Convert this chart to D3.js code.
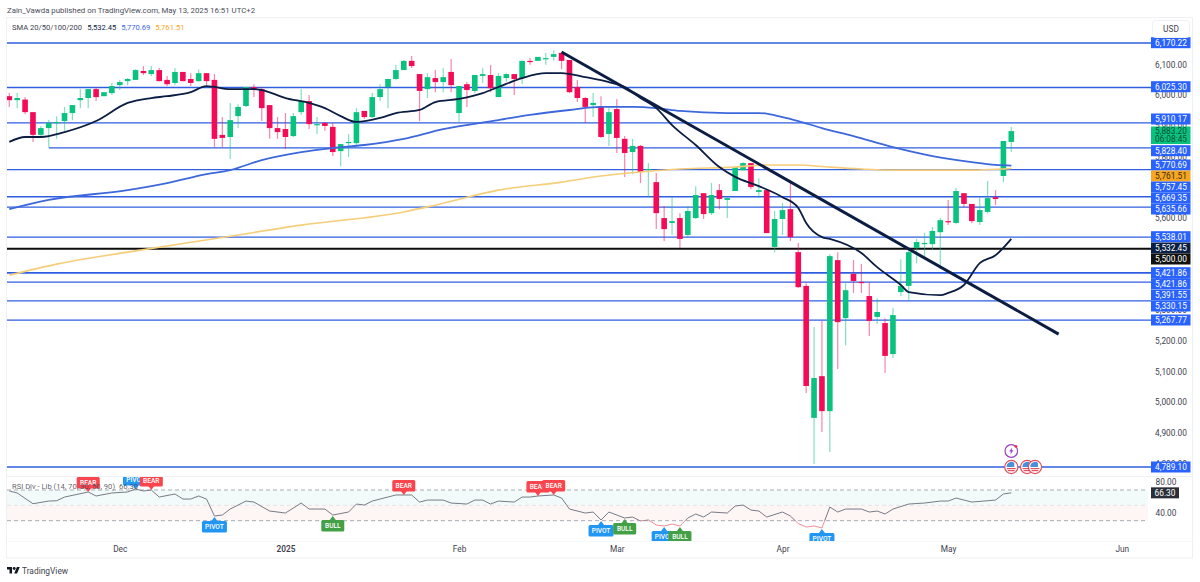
<!DOCTYPE html>
<html>
<head>
<meta charset="utf-8">
<script src="https://cdn.jsdelivr.net/npm/d3@7"></script>
<style>
  html, body { margin: 0; padding: 0; background: #fff; }
  svg { display: block; }
  text { font-family: Roboto, "Liberation Sans", sans-serif; }
</style>
</head>
<body>
<div id="chart"></div>
<script>
// daily candles
const opens = [5997,5984,5986,5945,5871,5893,5910,5916,5942,5984,5991,6020,5997,6007,6033,6046,6050,6079,6069,6082,6050,6040,6076,6053,6046,6072,6050,5871,5864,5932,5965,6027,6020,5968,5893,5890,5867,5945,5981,5903,5910,5897,5818,5844,5844,5949,5929,5994,6027,6053,6082,6112,6069,6020,6056,6043,6076,5942,6036,6014,6063,6066,5994,6056,6069,6056,6112,6112,6118,6125,6138,6115,6027,5991,5968,5965,5874,5955,5858,5815,5835,5756,5717,5600,5584,5600,5545,5600,5681,5616,5691,5659,5688,5756,5779,5685,5691,5506,5597,5629,5489,5379,4949,5085,4971,5463,5274,5418,5392,5346,5278,5258,5157,5359,5379,5502,5515,5515,5554,5590,5584,5681,5646,5587,5620,5668,5737,5848];
const highs = [6007,6007,5994,5945,5900,5919,5932,5962,5968,6020,6020,6027,6010,6040,6050,6056,6085,6095,6095,6089,6063,6089,6076,6072,6085,6072,6069,5929,5975,5971,6027,6036,6027,5968,5929,5942,5942,6020,6001,5929,5913,5910,5841,5874,5958,5949,6007,6036,6053,6099,6115,6128,6069,6072,6082,6089,6118,6030,6043,6066,6089,6099,6072,6072,6069,6112,6121,6125,6138,6147,6141,6115,6050,5994,6007,5997,5962,5988,5867,5858,5838,5779,5747,5639,5668,5616,5639,5704,5681,5714,5711,5668,5769,5782,5779,5730,5694,5623,5649,5724,5519,5388,5245,5265,5483,5489,5388,5463,5450,5392,5339,5274,5307,5466,5499,5532,5551,5571,5600,5659,5698,5681,5646,5668,5721,5691,5851,5897];
const lows = [5962,5958,5939,5848,5864,5831,5858,5884,5919,5958,5958,5981,5997,6001,6017,6033,6050,6066,6063,6046,6030,6033,6046,6030,6043,6033,5831,5831,5792,5893,5962,5994,5916,5858,5858,5825,5864,5936,5890,5874,5884,5802,5769,5799,5838,5923,5926,5981,5958,6050,6082,6089,5916,5991,6010,6010,6010,5913,5962,6007,6040,6010,5994,6043,6001,6036,6099,6112,6099,6112,6085,6007,5978,5910,5929,5861,5835,5812,5734,5743,5714,5668,5564,5525,5545,5502,5538,5597,5597,5610,5629,5600,5688,5756,5694,5665,5551,5489,5545,5525,5372,5030,4799,4903,4838,5108,5186,5356,5356,5216,5255,5095,5144,5346,5333,5453,5473,5496,5434,5577,5580,5636,5584,5577,5616,5642,5717,5815];
const closes = [5984,5991,5945,5871,5893,5910,5913,5942,5968,5991,6020,5994,6010,6030,6043,6053,6082,6072,6082,6046,6036,6076,6046,6040,6072,6046,5858,5861,5919,5962,6027,6020,5958,5893,5880,5864,5932,5981,5906,5906,5900,5815,5841,5848,5945,5929,5994,6020,6053,6082,6112,6095,6014,6059,6043,6059,6033,6030,6017,6066,6069,6023,6063,6069,6053,6112,6108,6125,6121,6134,6112,6010,5991,5962,5975,5864,5945,5861,5812,5835,5750,5760,5616,5564,5590,5532,5623,5675,5613,5675,5662,5665,5766,5779,5701,5691,5551,5597,5626,5538,5375,5053,5079,4971,5476,5261,5365,5395,5388,5265,5294,5151,5284,5379,5489,5522,5519,5558,5593,5587,5688,5646,5590,5626,5665,5662,5851,5883.2];

// moving averages, read at the bars where they bend
const sma20Bars = [0,2,4,7,11,15,18,20,23,25,28,31,32,35,38,40,42,44,47,49,52,54,57,60,62,65,68,70,73,76,78,80,82,84,87,90,92,95,98,100,101,103,104,108,110,113,114,118,119,121,123,125,127];
const sma20Values = [5848,5864,5864,5880,5916,5975,5991,5997,6010,6030,6020,6020,6017,5991,5975,5958,5932,5913,5926,5942,5952,5978,5988,6007,6027,6056,6072,6072,6059,6043,6027,5991,5958,5903,5838,5766,5734,5704,5668,5633,5584,5538,5532,5486,5440,5382,5359,5349,5356,5382,5453,5479,5532.45];
const sma100Bars = [0,5,15,20,25,28,32,37,41,45,50,55,62,66,71,75,79,82,85,91,95,98,100,103,107,112,117,122,125,127];
const sma100Values = [5629,5659,5691,5714,5743,5756,5789,5815,5828,5838,5858,5890,5919,5936,5952,5962,5962,5958,5949,5942,5942,5929,5916,5893,5867,5831,5802,5782,5773,5770.69];
const sma200Bars = [0,6,15,28,37,50,54,62,70,75,80,85,92,96,100,104,108,112,121,127];
const sma200Values = [5414,5450,5489,5541,5577,5620,5642,5691,5717,5737,5750,5760,5766,5773,5773,5766,5760,5756,5756,5761.51];

const trendBars = [70,133];
const trendPrices = [6141,5222];

const levelPrices = [6170.22,6025.30,5910.17,5828.40,5757.45,5669.35,5635.66,5538.01,5421.86,5421.86,5391.55,5330.15,5267.77,4789.10];
const levelFromBars = [-2,-2,-2,5,-2,-2,-2,-2,-2,-2,-2,-2,-2,-2];
const blackLevel = 5500;

const priceTicks = [6100,6000,5900,5800,5700,5600,5500,5400,5300,5200,5100,5000,4900,4800];
const timeTickBars = [14,35,57,77,98,119,141];
const timeTickLabels = ["Dec","2025","Feb","Mar","Apr","May","Jun"];

// right hand labels, stacked so that they do not overlap
const tagValues = [6170.22,6025.30,5910.17,5828.40,5770.69,5761.51,5757.45,5669.35,5635.66,5538.01,5532.45,5500,5421.86,5421.86,5391.55,5330.15,5267.77,4789.10];
const tagCentres = [42.7,86.7,119,150.7,165,176,187,198,209,236.7,248,259,272.7,283.7,295,306,320,467];
const tagFills = ["#2962ff","#2962ff","#2962ff","#2962ff","#2962ff","#f5a623","#2962ff","#2962ff","#2962ff","#2962ff","#0a1f44","#111111","#2962ff","#2962ff","#2962ff","#2962ff","#2962ff","#2962ff"];

// RSI pane
const rsiBars = [0,1,3,5,6,7,10,11,13,15,16,17,18,19,21,22,23,24,25,26,27,28,30,31,33,35,37,38,40,41,43,44,45,46,49,51,52,53,55,56,58,59,60,61,62,64,65,66,67,69,70,71,73,74,75,76,78,79,80,81,82,83,84,85,86,87,88,89,91,92,93,94,95,96,98,99,100,101,102,103,104,105,106,108,109,110,111,112,114,116,118,119,120,122,125,126,127];
const rsiValues = [68.7,66.1,52.1,55.6,56,60.8,67.4,62.2,66.1,67.4,71.3,68.7,70,60.8,64.8,58.2,58.2,62.2,58.2,36.1,37.4,45.2,55.6,54.3,42.6,40,53,45.2,45.2,37.4,41.3,51.7,50.4,55.6,63.5,63.5,54.3,56.9,56.9,53,51.7,56.9,56.9,51.7,55.6,54.3,60.8,60.8,62.2,63.5,59.5,45.2,40,41.3,30.9,41.3,33.5,34.8,29.6,30.9,24.4,23.1,25.7,23.1,33.5,38.7,34.8,41.3,40,49.1,50.4,43.9,42.6,34.8,41.3,36.1,26.3,21.8,23.1,20.5,47.8,41.3,45.2,45.2,41.3,42.6,38.7,45.2,51.7,53,55.6,55.6,59.5,54.3,56.9,64.8,66.3];
const rsiTicks = [80,40];
const markerKinds = ["BEAR","PIVOT","BEAR","PIVOT","BULL","BEAR","BEAR","BEAR","PIVOT","BULL","PIVOT","BULL","PIVOT"];
const markerBars = [10,16,18,26,41,50,67,69,75,78,83,85,103];
const markerValues = [67.4,71.3,70,36.1,37.4,63.5,62.2,63.5,30.9,33.5,23.1,23.1,20.5];

const width = 1200, height = 582;
const plotLeft = 7, plotRight = 1151, mainTop = 17, mainBottom = 477, rsiBottom = 541, frameBottom = 558;
const upColor = "#0ac27f", downColor = "#f50a57", levelColor = "#2f5fe0", navy = "#0b1d42";
const bodyWidth = 5.6;

const fmt = d3.format(",.2f");

const x = d3.scaleLinear().domain([0, 127]).range([9.3, 1011.3]);
const y = d3.scaleLinear().domain([4789.10, 6170.22]).range([467, 43]);
const yRsi = d3.scaleLinear().domain([30, 70]).range([520.7, 490]);

const svg = d3.select("#chart").append("svg")
    .attr("width", width)
    .attr("height", height);

svg.append("text")
    .attr("x", 7).attr("y", 13)
    .attr("font-size", 7.85).attr("fill", "#4a4e59")
    .text("Zain_Vawda published on TradingView.com, May 13, 2025 16:51 UTC+2");

// frame
svg.append("rect")
    .attr("x", 6.5).attr("y", 17.5)
    .attr("width", 1186).attr("height", frameBottom - 17.5)
    .attr("fill", "none").attr("stroke", "#eef0f3");
svg.append("line")
    .attr("x1", 6.5).attr("x2", 1192.5)
    .attr("y1", mainBottom - 0.5).attr("y2", mainBottom - 0.5)
    .attr("stroke", "#eef0f3");
svg.append("line")
    .attr("x1", 6.5).attr("x2", 1192.5)
    .attr("y1", rsiBottom + 0.5).attr("y2", rsiBottom + 0.5)
    .attr("stroke", "#f6f7f9");

const defs = svg.append("defs");
defs.append("clipPath").attr("id", "mainClip").append("rect")
    .attr("x", plotLeft).attr("y", mainTop)
    .attr("width", plotRight - plotLeft).attr("height", mainBottom - mainTop);
defs.append("clipPath").attr("id", "rsiClip").append("rect")
    .attr("x", plotLeft).attr("y", mainBottom)
    .attr("width", plotRight - plotLeft).attr("height", rsiBottom - mainBottom);
defs.append("clipPath").attr("id", "rsiOverClip").append("rect")
    .attr("x", plotLeft).attr("y", mainBottom)
    .attr("width", plotRight - plotLeft).attr("height", yRsi(30) - mainBottom);
defs.append("clipPath").attr("id", "rsiUnderClip").append("rect")
    .attr("x", plotLeft).attr("y", yRsi(30))
    .attr("width", plotRight - plotLeft).attr("height", rsiBottom - yRsi(30));

const main = svg.append("g").attr("clip-path", "url(#mainClip)");

// price levels
main.selectAll(".level").data(levelPrices).enter().append("line")
    .attr("x1", (d, i) => x(levelFromBars[i]))
    .attr("x2", plotRight)
    .attr("y1", d => y(d)).attr("y2", d => y(d))
    .attr("stroke", levelColor).attr("stroke-width", 1.3);
main.append("line")
    .attr("x1", plotLeft).attr("x2", plotRight)
    .attr("y1", y(blackLevel)).attr("y2", y(blackLevel))
    .attr("stroke", "#0d0d0d").attr("stroke-width", 2);

// candles
const candles = main.selectAll(".candle").data(opens).enter().append("g");
candles.append("line")
    .attr("x1", (d, i) => x(i)).attr("x2", (d, i) => x(i))
    .attr("y1", (d, i) => y(highs[i])).attr("y2", (d, i) => y(lows[i]))
    .attr("stroke", (d, i) => closes[i] >= d ? upColor : downColor)
    .attr("stroke-width", 1.2).attr("stroke-opacity", 0.5);
candles.append("rect")
    .attr("x", (d, i) => x(i) - bodyWidth / 2)
    .attr("width", bodyWidth)
    .attr("y", (d, i) => y(Math.max(d, closes[i])))
    .attr("height", (d, i) => Math.max(1.2, Math.abs(y(d) - y(closes[i]))))
    .attr("fill", (d, i) => closes[i] >= d ? upColor : downColor);

// averages and trend line
function drawLine(parent, bars, values, scaleY, color, strokeWidth, curve) {
    const line = d3.line().x(d => x(d[0])).y(d => scaleY(d[1])).curve(curve || d3.curveLinear);
    return parent.append("path")
        .attr("d", line(bars.map((b, i) => [b, values[i]])))
        .attr("fill", "none")
        .attr("stroke", color)
        .attr("stroke-width", strokeWidth)
        .attr("stroke-linejoin", "round");
}
drawLine(main, sma200Bars, sma200Values, y, "#f6cd78", 1.6, d3.curveMonotoneX);
drawLine(main, sma100Bars, sma100Values, y, "#3d68dc", 1.8, d3.curveMonotoneX);
drawLine(main, sma20Bars, sma20Values, y, navy, 1.8, d3.curveMonotoneX);
drawLine(main, trendBars, trendPrices, y, navy, 3);

// event icons at the right end of the candles
const iconY = y(4789.10);
[127, 129, 130].forEach(b => {
    const g = main.append("g").attr("transform", `translate(${x(b)},${iconY})`);
    g.append("circle").attr("r", 6.6).attr("fill", "#fff").attr("stroke", "#e0505f").attr("stroke-width", 1.2);
    g.append("path").attr("d", "M-4.6,0A4.6,4.6 0 0 1 3,-4L3,0Z").attr("fill", "#4a90d9");
    g.append("rect").attr("x", -4.4).attr("y", 1).attr("width", 8.8).attr("height", 1.2).attr("fill", "#e0505f");
    g.append("rect").attr("x", -3.4).attr("y", 3).attr("width", 6.8).attr("height", 1.2).attr("fill", "#e0505f");
});
const bolt = main.append("g").attr("transform", `translate(${x(127)},${iconY - 16})`);
bolt.append("circle").attr("r", 6.3).attr("fill", "#fff").attr("stroke", "#9c3fc0").attr("stroke-width", 1.2);
bolt.append("path").attr("d", "M1,-3.6L-2.2,0.6L-0.3,0.6L-1,3.6L2.2,-0.8L0.3,-0.8Z").attr("fill", "#9c3fc0");
bolt.append("circle").attr("cx", 4.6).attr("cy", -4.6).attr("r", 1.4).attr("fill", "#f23645");

// RSI pane
const rsiPane = svg.append("g").attr("clip-path", "url(#rsiClip)");
rsiPane.append("rect")
    .attr("x", plotLeft).attr("width", plotRight - 3 - plotLeft)
    .attr("y", yRsi(70)).attr("height", yRsi(50) - yRsi(70))
    .attr("fill", "#f2fbf9");
rsiPane.append("rect")
    .attr("x", plotLeft).attr("width", plotRight - 3 - plotLeft)
    .attr("y", yRsi(50)).attr("height", yRsi(30) - yRsi(50))
    .attr("fill", "#fef5f5");
rsiPane.selectAll(".rsiLevel").data([70, 50, 30]).enter().append("line")
    .attr("x1", plotLeft).attr("x2", plotRight - 3)
    .attr("y1", d => yRsi(d)).attr("y2", d => yRsi(d))
    .attr("stroke", d => d === 50 ? "#e3e4e8" : "#a9abb3")
    .attr("stroke-width", 1)
    .attr("stroke-dasharray", "4 3");

drawLine(rsiPane.append("g").attr("clip-path", "url(#rsiOverClip)"), rsiBars, rsiValues, yRsi, "#787b86", 1);
drawLine(rsiPane.append("g").attr("clip-path", "url(#rsiUnderClip)"), rsiBars, rsiValues, yRsi, "#f38b92", 1);

const markerColors = { BEAR: "#f9454d", PIVOT: "#2196f3", BULL: "#43a047" };
markerKinds.forEach((kind, i) => {
    const mx = x(markerBars[i]);
    const my = yRsi(markerValues[i]);
    const w = kind === "PIVOT" ? 25 : 23;
    const up = kind === "BEAR" || (kind === "PIVOT" && markerValues[i] > 60);
    const boxY = up ? my - 15 : my + 5;
    const g = rsiPane.append("g");
    g.append("path")
        .attr("d", up
            ? `M${mx - 3},${my - 4}L${mx},${my}L${mx + 3},${my - 4}Z`
            : `M${mx - 3},${my + 5}L${mx},${my + 1}L${mx + 3},${my + 5}Z`)
        .attr("fill", markerColors[kind]);
    g.append("rect")
        .attr("x", mx - w / 2).attr("y", boxY)
        .attr("width", w).attr("height", 11.5).attr("rx", 1.5)
        .attr("fill", markerColors[kind]);
    g.append("text")
        .attr("x", mx).attr("y", boxY + 8.2)
        .attr("text-anchor", "middle")
        .attr("font-size", 6.6).attr("font-weight", 500).attr("fill", "#fff")
        .text(kind);
});

// axes
const priceAxis = svg.append("g")
    .attr("transform", "translate(1171,0)")
    .call(d3.axisRight(y).tickValues(priceTicks).tickSize(0).tickPadding(0).tickFormat(fmt));
priceAxis.select(".domain").remove();
priceAxis.selectAll("text")
    .attr("text-anchor", "middle")
    .attr("font-size", 8.3)
    .attr("fill", "#3f434e")
    .style("font-family", "Roboto, sans-serif");

const rsiAxis = svg.append("g")
    .attr("transform", "translate(1166,0)")
    .call(d3.axisRight(yRsi).tickValues(rsiTicks).tickSize(0).tickPadding(0).tickFormat(d3.format(".2f")));
rsiAxis.select(".domain").remove();
rsiAxis.selectAll("text")
    .attr("text-anchor", "middle")
    .attr("font-size", 8.3)
    .attr("fill", "#3f434e")
    .style("font-family", "Roboto, sans-serif");

const timeAxis = svg.append("g")
    .attr("transform", "translate(0,546)")
    .call(d3.axisBottom(x).tickValues(timeTickBars).tickSize(0).tickPadding(0)
        .tickFormat((d, i) => timeTickLabels[i]));
timeAxis.select(".domain").remove();
timeAxis.selectAll("text")
    .attr("font-size", 8.3)
    .attr("fill", "#3f434e")
    .style("font-family", "Roboto, sans-serif");
timeAxis.selectAll("text").filter((d, i) => timeTickLabels[i] === "2025").attr("font-weight", 600);

// value tags
const tags = svg.selectAll(".tag").data(tagValues).enter().append("g");
tags.append("rect")
    .attr("x", 1151).attr("width", 39.5)
    .attr("y", (d, i) => tagCentres[i] - 5.5).attr("height", 11)
    .attr("fill", (d, i) => tagFills[i]);
tags.append("text")
    .attr("x", 1171)
    .attr("y", (d, i) => tagCentres[i] + 3)
    .attr("text-anchor", "middle")
    .attr("font-size", 8.3)
    .attr("fill", (d, i) => tagFills[i] === "#f5a623" ? "#3b2a05" : "#fff")
    .text(fmt);

svg.append("rect")
    .attr("x", 1151).attr("width", 39.5)
    .attr("y", 126.5).attr("height", 17.5)
    .attr("fill", upColor);
svg.append("text")
    .attr("x", 1171).attr("y", 133.8)
    .attr("text-anchor", "middle").attr("font-size", 8.3).attr("fill", "#064d33")
    .text(fmt(closes[closes.length - 1]));
svg.append("text")
    .attr("x", 1171).attr("y", 142)
    .attr("text-anchor", "middle").attr("font-size", 8.3).attr("fill", "#064d33")
    .text("06:08:45");

svg.append("rect")
    .attr("x", 1151).attr("width", 28)
    .attr("y", yRsi(rsiValues[rsiValues.length - 1]) - 5.5).attr("height", 11)
    .attr("fill", "#2a2e39");
svg.append("text")
    .attr("x", 1165).attr("y", yRsi(rsiValues[rsiValues.length - 1]) + 3)
    .attr("text-anchor", "middle").attr("font-size", 8.3).attr("fill", "#fff")
    .text(d3.format(".2f")(rsiValues[rsiValues.length - 1]));

svg.append("rect")
    .attr("x", 1152.5).attr("y", 20.5)
    .attr("width", 37).attr("height", 17).attr("rx", 3)
    .attr("fill", "#fff").attr("stroke", "#f0f1f4");
svg.append("text")
    .attr("x", 1171).attr("y", 32)
    .attr("text-anchor", "middle").attr("font-size", 8.3).attr("fill", "#3f434e")
    .text("USD");

// legends
const smaLegend = svg.append("text")
    .attr("x", 12).attr("y", 30.3)
    .attr("font-size", 7.6).attr("fill", "#3f434e");
smaLegend.append("tspan").text("SMA 20/50/100/200");
smaLegend.append("tspan").attr("dx", 5).attr("fill", navy).text(fmt(sma20Values[sma20Values.length - 1]));
smaLegend.append("tspan").attr("dx", 5).attr("fill", "#3d68dc").text(fmt(sma100Values[sma100Values.length - 1]));
smaLegend.append("tspan").attr("dx", 5).attr("fill", "#f5a623").text(fmt(sma200Values[sma200Values.length - 1]));

const rsiLegend = svg.append("text")
    .attr("x", 12).attr("y", 489.3)
    .attr("font-size", 7.6).attr("fill", "#3f434e").attr("fill-opacity", 0.85);
rsiLegend.append("tspan").text("RSI Div - Lib (14, 70, 30, 50, 90)");
rsiLegend.append("tspan").attr("dx", 4).text(d3.format(".2f")(rsiValues[rsiValues.length - 1]));

// footer logo
const logo = svg.append("g").attr("transform", "translate(7,565.6) scale(0.36)").attr("fill", "#131722");
logo.append("path").attr("d", "M14 22H7V11H0V4h14v18zM28 22h-8l7.5-18h8L28 22z");
logo.append("circle").attr("cx", 20).attr("cy", 8).attr("r", 4);
svg.append("text")
    .attr("x", 22).attr("y", 574)
    .attr("font-size", 8.4).attr("fill", "#3f434e")
    .text("TradingView");
</script>
</body>
</html>
